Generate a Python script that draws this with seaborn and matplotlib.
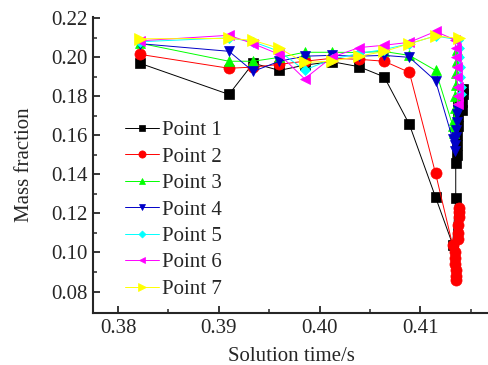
import pandas as pd
import matplotlib.pyplot as plt
import seaborn as sns

# solution times before the sharp drop (shared by all monitor points)
t_main = [0.3822, 0.3910, 0.3934, 0.3960, 0.3985, 0.4012, 0.4039, 0.4064, 0.4089, 0.4115]

p1_main = [0.1969, 0.1810, 0.1970, 0.1933, 0.1960, 0.1978, 0.1952, 0.1900, 0.1656, 0.1283]
p2_main = [0.2015, 0.1944, 0.1950, 0.1964, 0.1980, 0.1995, 0.1990, 0.1980, 0.1923, 0.1405]
p3_main = [0.2072, 0.1980, 0.1980, 0.2000, 0.2026, 0.2026, 0.2025, 0.2030, 0.2010, 0.1933]
p4_main = [0.2070, 0.2031, 0.1928, 0.1980, 0.2006, 0.2010, 0.2006, 0.2010, 0.2000, 0.1880]
p5_main = [0.2080, 0.2100, 0.2080, 0.2030, 0.1935, 0.1990, 0.2020, 0.2040, 0.2070, 0.2110]
p6_main = [0.2085, 0.2113, 0.2070, 0.2015, 0.1890, 0.2000, 0.2050, 0.2062, 0.2077, 0.2133]
p7_main = [0.2095, 0.2097, 0.2087, 0.2046, 0.1974, 0.1980, 0.2006, 0.2030, 0.2070, 0.2110]

# dense time steps near 0.4135 s
p1_tc = [0.4132, 0.4135, 0.4135, 0.4136, 0.4136, 0.4136, 0.4137, 0.4137, 0.4137, 0.4138, 0.4141, 0.4141, 0.4142, 0.4142]
p1_yc = [0.104, 0.128, 0.146, 0.150, 0.155, 0.160, 0.165, 0.170, 0.175, 0.178, 0.173, 0.177, 0.181, 0.184]
p2_tc = [0.4132, 0.4134, 0.4134, 0.4134, 0.4135, 0.4135, 0.4135, 0.4137, 0.4137, 0.4137, 0.4138, 0.4138, 0.4138]
p2_yc = [0.1036, 0.100, 0.097, 0.094, 0.091, 0.088, 0.086, 0.107, 0.110, 0.114, 0.118, 0.121, 0.123]
p3_tc = [0.4132, 0.4133, 0.4133, 0.4134, 0.4134, 0.4135, 0.4135, 0.4136, 0.4136]
p3_yc = [0.165, 0.161, 0.168, 0.174, 0.180, 0.186, 0.192, 0.198, 0.204]
p4_tc = [0.4132, 0.4134, 0.4134, 0.4135, 0.4135, 0.4136, 0.4136, 0.4137]
p4_yc = [0.158, 0.152, 0.155, 0.159, 0.163, 0.167, 0.171, 0.173]
p5_tc = [0.4137, 0.4138, 0.4138, 0.4139, 0.4139, 0.4140, 0.4140]
p5_yc = [0.209, 0.205, 0.200, 0.195, 0.190, 0.185, 0.181]
p6_tc = [0.4134, 0.4135, 0.4135, 0.4136, 0.4136, 0.4137, 0.4137, 0.4137]
p6_yc = [0.209, 0.205, 0.200, 0.195, 0.190, 0.185, 0.180, 0.176]
p7_tc = [0.4138]
p7_yc = [0.2097]

labels = ['Point 1', 'Point 2', 'Point 3', 'Point 4', 'Point 5', 'Point 6', 'Point 7']
series = [
    (p1_main, p1_tc, p1_yc),
    (p2_main, p2_tc, p2_yc),
    (p3_main, p3_tc, p3_yc),
    (p4_main, p4_tc, p4_yc),
    (p5_main, p5_tc, p5_yc),
    (p6_main, p6_tc, p6_yc),
    (p7_main, p7_tc, p7_yc),
]
colors = ['black', 'red', '#00ff00', '#0000c8', 'cyan', 'magenta', 'yellow']
markers = ['s', 'o', '^', 'v', 'D', '<', '>']
msizes = [6.5, 8, 7.5, 7.5, 5.5, 7.5, 8.5]

sns.set_style('ticks')
plt.rcParams['font.family'] = ['Liberation Serif', 'DejaVu Serif']

fig = plt.figure(figsize=(4.89, 3.65), dpi=100)
ax = fig.add_axes([0.19, 0.1425, 0.81, 0.81])

for lab, (main, tc, yc), c, m, ms in zip(labels, series, colors, markers, msizes):
    df = pd.DataFrame({'t': t_main + tc, 'y': main + yc})
    sns.lineplot(data=df, x='t', y='y', ax=ax, color=c, marker=m, markersize=ms,
                 markeredgecolor=c, markeredgewidth=0.5, linewidth=0.7,
                 estimator=None, sort=False, label=lab)

ax.set_xlim(0.3775, 0.4168)
ax.set_ylim(0.069, 0.2205)
ax.set_xticks([0.38, 0.39, 0.40, 0.41])
ax.set_xticklabels(['0.38', '0.39', '0.40', '0.41'])
ax.set_xticks([0.385, 0.395, 0.405, 0.415], minor=True)
yt = [0.08, 0.10, 0.12, 0.14, 0.16, 0.18, 0.20, 0.22]
ax.set_yticks(yt)
ax.set_yticklabels([f'{v:.2f}' for v in yt])
ax.set_yticks([0.09, 0.11, 0.13, 0.15, 0.17, 0.19, 0.21], minor=True)
ax.tick_params(which='major', direction='in', length=5, width=1.3, labelsize=15, pad=4)
ax.tick_params(which='minor', direction='in', length=3, width=1.1)
sns.despine(ax=ax)
for s in ['left', 'bottom']:
    ax.spines[s].set_linewidth(1.5)

ax.set_xlabel('Solution time/s', fontsize=15, labelpad=7)
ax.set_ylabel('Mass fraction', fontsize=15, labelpad=12)

ax.legend(loc='upper left', bbox_to_anchor=(0.045, 0.70), frameon=False, fontsize=15,
          handlelength=1.6, handletextpad=0.15, labelspacing=0.33, markerscale=0.65,
          borderpad=0.2)

fig.savefig('out.png', dpi=100)
